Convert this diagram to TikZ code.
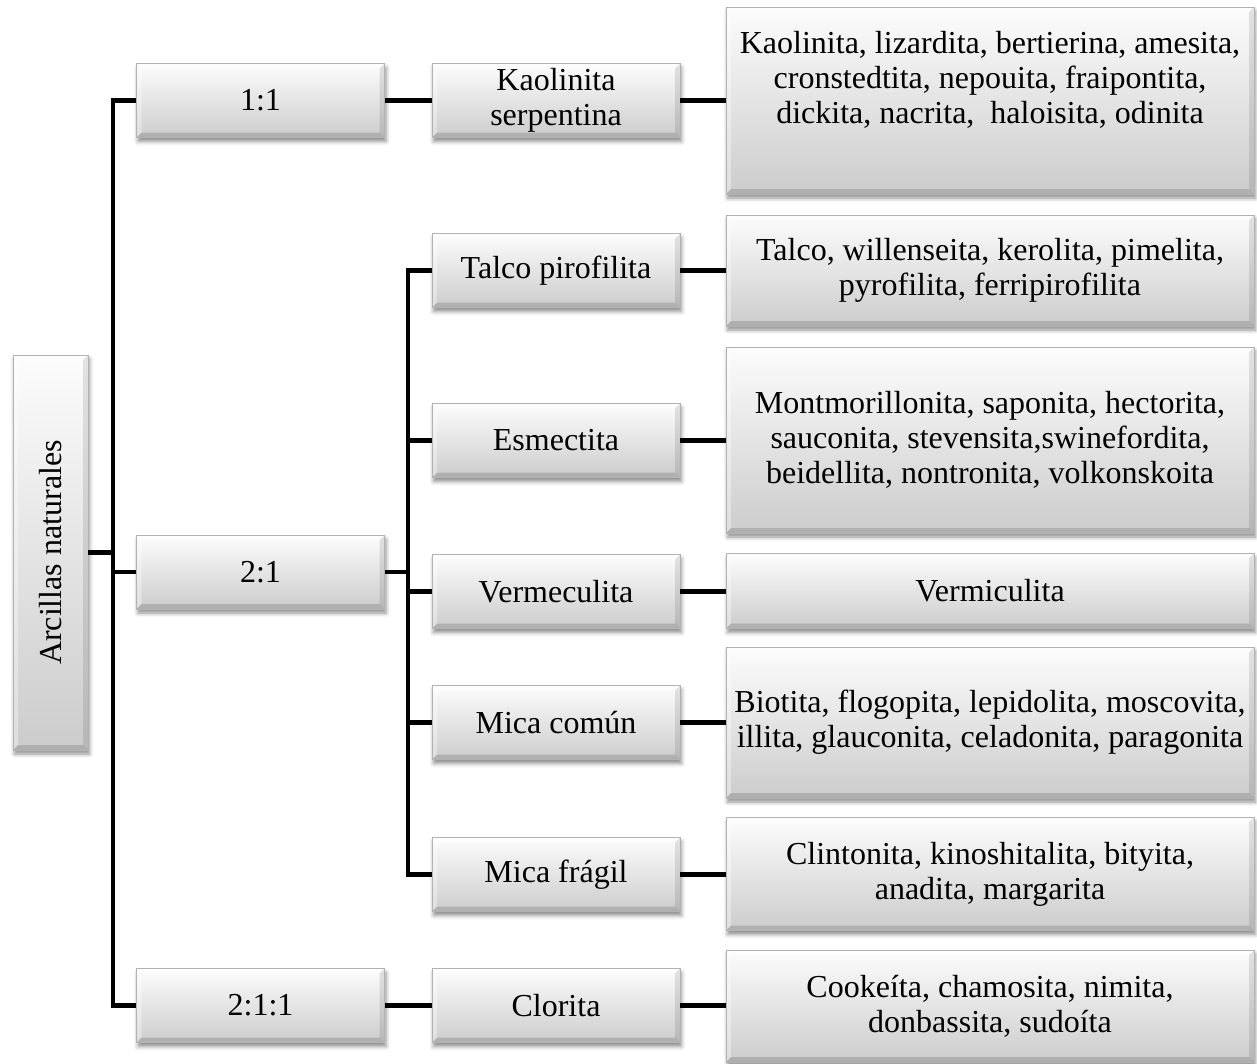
\documentclass[tikz,border=0pt]{standalone}
\usepackage{fontspec}
\setmainfont{Liberation Serif}
\usetikzlibrary{shadows.blur}

% bevelled edges drawn inside every box
\newcommand{\bevelstrips}{%
  \fill[white,opacity=0.55]
    (path picture bounding box.north west) -- (path picture bounding box.north east)
    -- ([shift={(-5pt,-5pt)}]path picture bounding box.north east)
    -- ([shift={(5pt,-5pt)}]path picture bounding box.north west) -- cycle;
  \fill[white,opacity=0.35]
    (path picture bounding box.north west) -- (path picture bounding box.south west)
    -- ([shift={(5pt,5pt)}]path picture bounding box.south west)
    -- ([shift={(5pt,-5pt)}]path picture bounding box.north west) -- cycle;
  \fill[black,opacity=0.10]
    (path picture bounding box.south east) -- (path picture bounding box.north east)
    -- ([shift={(-5pt,-5pt)}]path picture bounding box.north east)
    -- ([shift={(-5pt,5pt)}]path picture bounding box.south east) -- cycle;
  \fill[black,opacity=0.14]
    (path picture bounding box.south west) -- (path picture bounding box.south east)
    -- ([shift={(-5pt,5pt)}]path picture bounding box.south east)
    -- ([shift={(5pt,5pt)}]path picture bounding box.south west) -- cycle;
}

\tikzset{
  box/.style={rectangle, inner sep=0pt, align=center,
    top color=white!99!black, bottom color=white!80!black,
    draw=white!70!black, line width=0.6pt,
    blur shadow={shadow xshift=1.5pt, shadow yshift=-4pt,
                 shadow blur radius=4pt, shadow opacity=45},
    path picture={\bevelstrips},
    font=\fontsize{32}{35}\selectfont},
  midbox/.style={box, minimum width=248pt, minimum height=74pt},
  wide/.style={box, minimum width=528pt},
  txt/.style={align=center, inner sep=0pt, font=\fontsize{32}{35}\selectfont},
  conn/.style={line width=4.5pt, black},
}

\begin{document}
\begin{tikzpicture}[x=1pt, y=-1pt]
\useasboundingbox (0,0) rectangle (1257,1063);

% root
\node[box, minimum width=75pt, minimum height=395pt] (root) at (50.5,552.5)
  {\rotatebox{90}{Arcillas naturales}};

% layer types
\node[midbox] (t11)  at (260.5,100.5)  {1:1};
\node[midbox] (t21)  at (260.5,572)    {2:1};
\node[midbox] (t211) at (260.5,1005.5) {2:1:1};

% groups
\node[midbox] (kaol)  at (556,100.5)  {Kaolinita\\serpentina};
\node[midbox] (talco) at (556,270.5)  {Talco pirofilita};
\node[midbox] (esme)  at (556,440.5)  {Esmectita};
\node[midbox] (verm)  at (556,591.5)  {Vermeculita};
\node[midbox] (mcom)  at (556,722.5)  {Mica común};
\node[midbox] (mfra)  at (556,874.5)  {Mica frágil};
\node[midbox] (clor)  at (556,1005.5) {Clorita};

% species
\node[wide, minimum height=187pt] (kaolL) at (990,100.5) {};
\node[txt] (kaolT) at (990,80)
  {Kaolinita, lizardita, bertierina, amesita,\\
   cronstedtita, nepouita, fraipontita,\\
   dickita, nacrita,\ \ haloisita, odinita};
\node[wide, minimum height=111pt] (talcoL) at (990,270.5)
  {Talco, willenseita, kerolita, pimelita,\\pyrofilita, ferripirofilita};
\node[wide, minimum height=186pt] (esmeL) at (990,440)
  {Montmorillonita, saponita, hectorita,\\
   sauconita, stevensita,swinefordita,\\
   beidellita, nontronita, volkonskoita};
\node[wide, minimum height=75pt] (vermL) at (990,591)
  {Vermiculita};
\node[wide, minimum height=151pt] (mcomL) at (990,722.5)
  {Biotita, flogopita, lepidolita, moscovita,\\
   illita, glauconita, celadonita, paragonita};
\node[wide, minimum height=113pt] (mfraL) at (990,874)
  {Clintonita, kinoshitalita, bityita,\\anadita, margarita};
\node[wide, minimum height=112pt] (clorL) at (990,1006)
  {Cookeíta, chamosita, nimita,\\donbassita, sudoíta};

% bus lines
\coordinate (busA) at (113,0);
\coordinate (busB) at (408,0);

\draw[conn] (root.east) -- (root.east -| busA);
\draw[conn] (t11.west) -- (t11.west -| busA) |- (t211.west);
\draw[conn] (t21.west) -- (t21.west -| busA);

\draw[conn] (t11.east) -- (t11.east -| kaol.west);
\draw[conn] (t211.east) -- (t211.east -| clor.west);

\draw[conn] (t21.east) -- (t21.east -| busB);
\draw[conn] (talco.west) -- (talco.west -| busB) |- (mfra.west);
\draw[conn] (esme.west) -- (esme.west -| busB);
\draw[conn] (verm.west) -- (verm.west -| busB);
\draw[conn] (mcom.west) -- (mcom.west -| busB);

\draw[conn] (kaol.east)  -- (kaol.east -| kaolL.west);
\draw[conn] (talco.east) -- (talco.east -| talcoL.west);
\draw[conn] (esme.east)  -- (esme.east -| esmeL.west);
\draw[conn] (verm.east)  -- (verm.east -| vermL.west);
\draw[conn] (mcom.east)  -- (mcom.east -| mcomL.west);
\draw[conn] (mfra.east)  -- (mfra.east -| mfraL.west);
\draw[conn] (clor.east)  -- (clor.east -| clorL.west);
\end{tikzpicture}
\end{document}
